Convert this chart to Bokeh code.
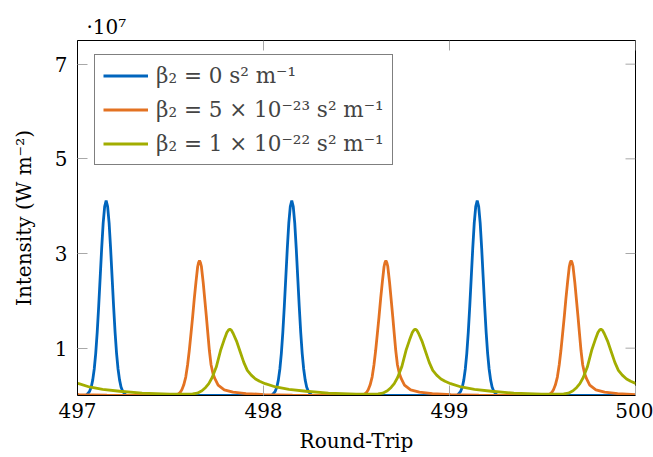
import math
from bokeh.plotting import figure
from bokeh.models import Range1d, FixedTicker, Legend, LegendItem, Title
from bokeh.embed import file_html
from bokeh.resources import INLINE

# ---- data (intensity in units of 1e7 W m^-2) ----
x_ticks = [497, 498, 499, 500]
y_ticks = [1, 3, 5, 7]
span = [497.0, 500.0]
y_span = [0.0, 7.5]

labels = ["β₂ = 0 s² m⁻¹", "β₂ = 5 × 10⁻²³ s² m⁻¹", "β₂ = 1 × 10⁻²² s² m⁻¹"]
colors = ["#0065BD", "#E37222", "#A2AD00"]

# pulse centres (round-trip)
blue_peaks = [497.154, 498.152, 499.149]
orange_peaks = [496.658, 497.656, 498.658, 499.654]
green_peaks = [496.817, 497.819, 498.816, 499.814]

# pulse profiles: offset from centre (round-trips) and intensity (1e7 W m^-2)
blue_off = [-0.12, -0.105, -0.09, -0.08, -0.072, -0.064, -0.056, -0.048, -0.040, -0.032,
            -0.024, -0.016, -0.008, 0.0, 0.008, 0.016, 0.024, 0.032, 0.040, 0.048,
            0.056, 0.064, 0.072, 0.08, 0.09, 0.105, 0.12]
blue_val = [0.0, 0.01, 0.08, 0.18, 0.33, 0.56, 0.89, 1.34, 1.89, 2.50,
            3.11, 3.64, 3.99, 4.12, 3.99, 3.64, 3.11, 2.50, 1.89, 1.34,
            0.89, 0.56, 0.33, 0.18, 0.08, 0.01, 0.0]

orange_off = [-0.135, -0.118, -0.105, -0.095, -0.085, -0.074, -0.064, -0.055, -0.046, -0.037,
              -0.028, -0.019, -0.010, -0.005, 0.0, 0.005, 0.010, 0.020, 0.029, 0.037,
              0.045, 0.053, 0.062, 0.072, 0.082, 0.10, 0.133, 0.18, 0.25, 0.35, 0.50, 0.65]
orange_val = [0.0, 0.02, 0.06, 0.12, 0.22, 0.39, 0.65, 0.95, 1.30, 1.66,
              2.05, 2.40, 2.72, 2.81, 2.85, 2.81, 2.73, 2.38, 2.00, 1.66,
              1.30, 0.95, 0.65, 0.47, 0.36, 0.22, 0.12, 0.07, 0.04, 0.02, 0.005, 0.0]

green_off = [-0.30, -0.24, -0.20, -0.175, -0.15, -0.13, -0.113, -0.095, -0.073, -0.05,
             -0.032, -0.016, -0.006, 0.0, 0.008, 0.018, 0.036, 0.056, 0.075, 0.094,
             0.115, 0.138, 0.16, 0.19, 0.247, 0.318, 0.41, 0.53, 0.68]
green_val = [0.03, 0.03, 0.035, 0.05, 0.10, 0.17, 0.25, 0.38, 0.60, 0.95,
             1.16, 1.33, 1.39, 1.40, 1.38, 1.31, 1.15, 0.92, 0.70, 0.53,
             0.43, 0.35, 0.30, 0.25, 0.18, 0.13, 0.09, 0.05, 0.03]


def build(peaks, offs, vals):
    xs, ys = [], []
    for c in peaks:
        for o, v in zip(offs, vals):
            xs.append(round(c + o, 4))
            ys.append(v)
    if xs[0] > span[0]:
        xs.insert(0, span[0]); ys.insert(0, vals[0])
    if xs[-1] < span[1]:
        xs.append(span[1]); ys.append(vals[-1])
    return xs, ys


series = [build(blue_peaks, blue_off, blue_val),
          build(orange_peaks, orange_off, orange_val),
          build(green_peaks, green_off, green_val)]

FONT = "DejaVu Serif"
FS = "20px"
TICK_GRAY = "#a8a8a8"

title = Title(text="·10⁷", align="left", offset=9, standoff=4,
              text_font=FONT, text_font_size=FS, text_font_style="normal",
              text_color="black")

p = figure(width=653, height=457, output_backend="svg", toolbar_location=None,
           x_range=Range1d(*span), y_range=Range1d(*y_span), title=title,
           x_axis_label="Round-Trip", y_axis_label="Intensity (W m⁻²)",
           min_border_left=77, min_border_right=18, min_border_top=40, min_border_bottom=62)
p.grid.visible = False
p.outline_line_color = "black"
p.outline_line_width = 1
p.background_fill_color = "white"
p.border_fill_color = "white"

# tick marks on the top and right edges (inward, 10 px)
p.ray(x=x_ticks, y=[y_span[1]] * len(x_ticks), length=10, length_units="screen",
      angle=-math.pi / 2, line_color=TICK_GRAY, line_width=1)
p.ray(x=[span[1]] * len(y_ticks), y=y_ticks, length=10, length_units="screen",
      angle=math.pi, line_color=TICK_GRAY, line_width=1)

renderers = []
for (xs, ys), c in zip(series, colors):
    r = p.line(xs, ys, line_color=c, line_width=2.8)
    renderers.append(r)

for ax in (p.xaxis[0], p.yaxis[0]):
    ax.axis_line_color = "black"
    ax.major_tick_line_color = TICK_GRAY
    ax.major_tick_line_width = 1
    ax.major_tick_in = 10
    ax.major_tick_out = 0
    ax.minor_tick_line_color = None
    ax.major_label_text_font = FONT
    ax.major_label_text_font_size = FS
    ax.major_label_text_color = "black"
    ax.axis_label_text_font = FONT
    ax.axis_label_text_font_size = FS
    ax.axis_label_text_font_style = "normal"
    ax.axis_label_text_color = "black"

xa = p.xaxis[0]
xa.ticker = FixedTicker(ticks=x_ticks, minor_ticks=[])
xa.major_label_standoff = 7
xa.axis_label_standoff = 8

ya = p.yaxis[0]
ya.ticker = FixedTicker(ticks=y_ticks, minor_ticks=[])
ya.major_label_standoff = 10
ya.axis_label_standoff = 16

legend = Legend(items=[LegendItem(label=l, renderers=[r]) for l, r in zip(labels, renderers)],
                location=(17, 230))
legend.border_line_color = "black"
legend.border_line_width = 1
legend.background_fill_color = "white"
legend.background_fill_alpha = 1.0
legend.label_text_font = FONT
legend.label_text_font_size = "21.5px"
legend.label_height = 25
legend.glyph_height = 25
legend.glyph_width = 45
legend.label_standoff = 8
legend.spacing = 9
legend.padding = 8
legend.margin = 0
p.add_layout(legend, "center")

open("out.html", "w").write(file_html(p, INLINE))
